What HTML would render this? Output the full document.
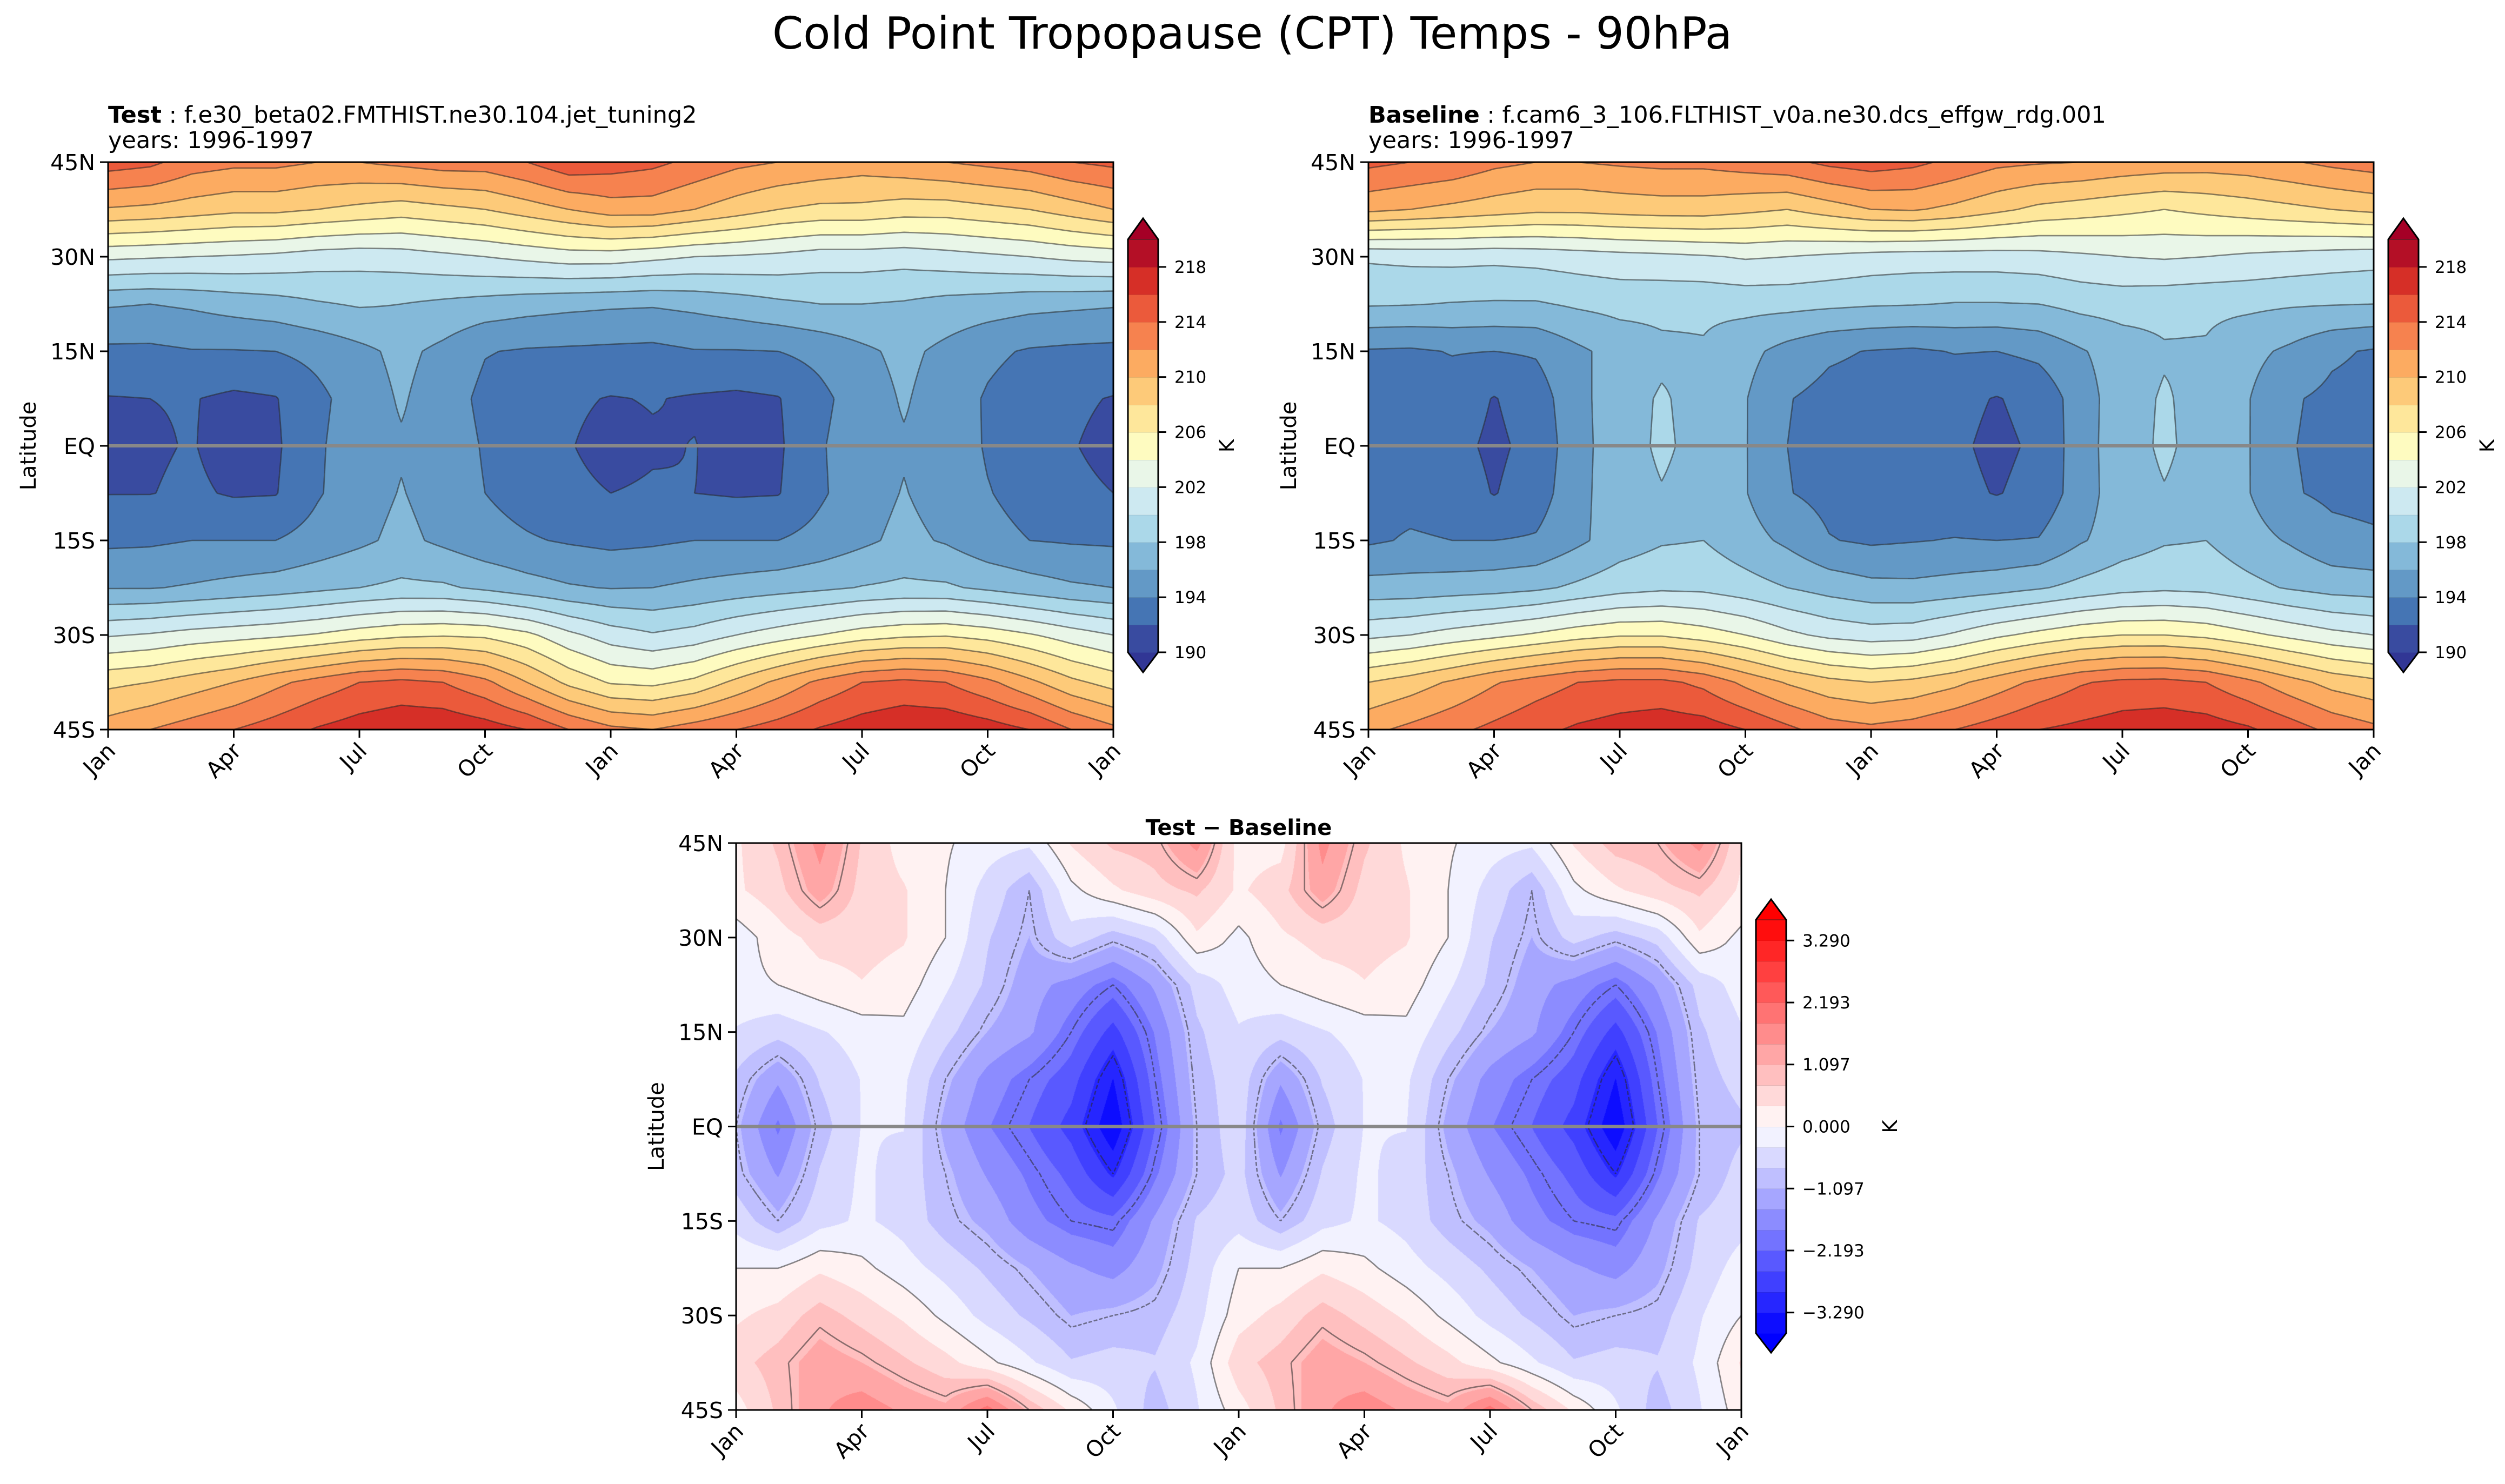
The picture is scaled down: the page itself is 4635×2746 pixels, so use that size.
<!DOCTYPE html>
<html><head><meta charset="utf-8">
<style>
html,body{margin:0;padding:0;background:#fff;}
#fig{position:relative;width:4635px;height:2746px;overflow:hidden;font-family:"DejaVu Sans","Liberation Sans",sans-serif;}
canvas{position:absolute;}
svg{position:absolute;left:0;top:0;}
</style></head>
<body>
<div id="fig">
<canvas id="cTest" width="1860" height="1050" style="left:200px;top:300px"></canvas>
<canvas id="cBase" width="1860" height="1050" style="left:2532px;top:300px"></canvas>
<canvas id="cDiff" width="1860" height="1049" style="left:1362px;top:1560px"></canvas>
<svg id="ov" width="4635" height="2746" xmlns="http://www.w3.org/2000/svg">
<text x="2317" y="90" font-size="82" text-anchor="middle">Cold Point Tropopause (CPT) Temps - 90hPa</text>
<text x="200" y="227" font-size="43"><tspan font-weight="bold">Test</tspan> : f.e30_beta02.FMTHIST.ne30.104.jet_tuning2</text>
<text x="200" y="274" font-size="43">years: 1996-1997</text>
<text x="2532" y="227" font-size="43"><tspan font-weight="bold">Baseline</tspan> : f.cam6_3_106.FLTHIST_v0a.ne30.dcs_effgw_rdg.001</text>
<text x="2532" y="274" font-size="43">years: 1996-1997</text>
<text x="2292" y="1545" font-size="40" font-weight="bold" text-anchor="middle">Test − Baseline</text>
<g id="layer"></g>
</svg>
</div>
<script>
const months = ["Jan","Apr","Jul","Oct","Jan","Apr","Jul","Oct","Jan"];
const latTicks = [45,30,15,0,-15,-30,-45];
const latTickLabels = ["45N","30N","15N","EQ","15S","30S","45S"];
const gridLats = [45,37.5,30,22.5,15,7.5,0,-7.5,-15,-22.5,-30,-37.5,-45];
const absLevels = [190,192,194,196,198,200,202,204,206,208,210,212,214,216,218,220];
const absTickVals = [190,194,198,202,206,210,214,218];
const diffLines = [-3,-2,-1,0,1,2,3];
const diffTickVals = [3.290,2.193,1.097,0.000,-1.097,-2.193,-3.290];

const testT = [
[215,214.5,213,212.5,212.5,212,212,212.5,213,213,214,215.5,215,214.5,213.5,212.5,212,211.5,211,211.5,212,212.5,213,214,214.5],
[209.8,209.5,209,208.5,208.5,208,207.5,207,207.5,208,209,210,211,211,210,209,208,207.5,207.5,207,207,207.5,208,209,210],
[202.4,202.2,202,201.8,201.5,201,200.8,201,201.5,202,202.5,203,203,202.5,202,201.8,201.5,201,201,200.8,201.2,201.6,202,202.5,202.8],
[196.2,196,196.3,196.8,197.2,197.8,198.2,198,197.6,197.2,196.8,196.5,196.3,196.2,196.5,197,197.6,198,198,197.8,197.3,197,196.6,196.4,196.2],
[193.6,193.6,193.9,193.9,194,194.6,195.5,196.5,195.5,194.1,193.8,193.7,193.6,193.5,193.9,193.9,194,194.6,195.6,196.5,195.5,194.4,193.8,193.6,193.5],
[191.9,192,192.1,191.6,191.9,193.5,195,196.2,195,193.5,193,192.3,191.9,192.1,191.8,191.6,191.9,193.5,195,196.2,195,193.8,193,192.3,191.9],
[191.3,191.8,192.1,191.3,191.7,193.7,195.2,195.8,195.2,193.8,193.2,192.1,191.4,191.8,192.05,191.4,191.7,193.8,195.2,195.8,195.2,193.8,193.2,192.1,191.5],
[191.95,191.95,192.3,191.8,191.9,193.8,195.2,196.1,195.2,194,193.2,192.4,192,192.2,192,191.8,191.9,193.7,195.2,196.1,195.2,194.1,193.3,192.4,192],
[193.6,193.7,194,194,194,194.8,195.6,196.5,195.6,194.7,194.2,193.8,193.5,193.7,194,194,194,194.7,195.6,196.5,195.8,194.6,194,193.8,193.7],
[195.9,195.9,196.2,196.6,197,197.5,198,198.4,198.3,197.6,196.8,196.2,195.9,196,196.4,196.8,197.2,197.6,198.1,198.4,198.3,197.6,196.9,196.3,196],
[201.8,202.2,202.8,203.2,203.6,204.2,205,205.6,205.8,205.6,204.5,202.5,201,200.2,200.8,202,203,204,205,205.6,205.8,205.2,204.2,203,202],
[207.5,208,209,210,211.5,212.8,214,214.5,214,212.5,210,207.5,205.8,205.5,206.5,208.5,210.5,212.5,214,214.5,214,212.5,210.5,208.5,207.2],
[211,212,213,214,215,216.2,217,217.6,217.6,217,216,214,212.5,212,213,214,215,216.2,217,217.6,217.6,217,216,214,212.5]
];
const baseT = [
[214.5,214,213.5,212.5,212,212,212.3,212.5,212.5,213,213.5,214.5,215,214.5,213.5,212.5,212.2,212,211.5,211.2,211,211.2,211.8,212.5,213],
[210.5,210,209.5,209,208.5,208.5,208.8,209,209,208.5,208,209,210,210.2,209.5,208.5,207.5,207,206.5,206,206.5,207,207.5,208,208.5],
[200.3,200.5,200.6,200.5,200.7,201,201.3,201.5,201.8,202.2,202,201.6,201.2,201,201,201,201.2,201.6,202,202.2,202,201.6,201.3,201,200.8],
[198.2,198.1,197.9,197.8,197.8,198.3,198.6,198.5,198.4,198.6,198.6,198.4,198.2,198.1,197.9,197.9,198,198.6,198.8,198.6,198.4,198.4,198.2,198.1,198],
[193.8,193.7,194.1,194,194.2,195.6,196.8,197.6,197.8,196.6,195.3,194.3,193.9,193.7,194.1,194,194.5,195.8,197,197.8,197.8,196.6,195.6,194.3,193.8],
[193.4,193.4,193.1,191.9,193,195.4,197.2,198.2,197.3,196.1,194.1,193.4,193.2,193,192.5,191.9,192.6,195,197.2,198.2,197.3,196.1,194.2,193.6,193.4],
[193.2,193.2,192.6,191.6,192.6,195.3,197.2,198.3,197.4,196.1,194,193.3,193,192.8,192.3,191.6,192.3,195.1,197.2,198.3,197.3,196.1,194.1,193.5,193.2],
[193.4,193.4,193.1,191.9,193,195.4,197.2,197.9,197.3,196.1,194.1,193.4,193.2,193,192.5,191.9,192.6,195,197.2,197.9,197.3,196.1,194.2,193.6,193.4],
[193.7,194.2,194,194,194.2,195.6,197,197.8,198,196.8,195.6,194.1,193.7,193.9,194.1,194,194.1,195.8,197,197.8,198,196.8,195.8,194.6,194.3],
[196.8,196.8,197,197.2,197.6,198.4,199.2,199.6,199.5,198.8,198,197.2,196.6,196.5,196.8,197.2,197.8,198.6,199.3,199.6,199.4,198.6,197.8,197.2,197],
[201.5,202,202.8,203.5,204.3,205.2,205.8,205.8,205,204,202.5,201.5,201,201.2,202.3,203.6,204.6,205.5,206,206,205.5,204.5,203.5,202.6,202],
[208,209,210.3,211.8,213,214,214.5,214.5,213.5,211.5,209.8,208.6,208,208.5,209.5,211,212.5,213.8,214.5,214.6,214,212.5,210.8,209.3,208.5],
[211.5,212.5,213.5,214.5,215.5,216.3,216.8,217.2,217,216,214.5,213,212.5,213,214,215,216,216.5,217,217.2,217,216.3,215,213.5,212.5]
];
const diffT = [
[0.3,0.8,1.6,0.7,0.2,0.05,-0.2,-0.3,0.4,0.8,0.9,1.6,0.2,0.2,1.6,0.8,0.3,0.05,-0.2,-0.3,0.4,0.9,1.0,1.6,0.4],
[0.3,0.6,1.3,0.6,0.4,0.0,-0.5,-1.0,-0.1,0.3,0.6,0.8,0.3,0.6,1.3,0.6,0.4,0.0,-0.5,-1.0,-0.1,0.3,0.6,0.8,0.3],
[-0.2,0.2,0.5,0.5,0.4,0.0,-0.7,-1.1,-0.5,-0.9,-0.6,0.3,-0.1,0.3,0.5,0.5,0.4,0.0,-0.7,-1.1,-0.6,-0.9,-0.6,0.3,-0.1],
[-0.1,0.0,0.2,0.35,0.2,-0.3,-0.8,-1.3,-1.6,-2.0,-1.4,-0.6,-0.2,0.0,0.2,0.35,0.2,-0.3,-0.8,-1.3,-1.6,-2.0,-1.4,-0.6,-0.2],
[-0.4,-0.6,-0.4,-0.2,-0.1,-0.6,-1.1,-1.4,-2.0,-2.7,-1.8,-0.8,-0.4,-0.6,-0.4,-0.2,-0.1,-0.6,-1.1,-1.4,-2.0,-2.7,-1.8,-0.8,-0.4],
[-0.8,-1.4,-0.7,-0.35,-0.3,-1.0,-1.6,-2.0,-2.4,-3.3,-2.0,-0.9,-0.5,-1.4,-0.7,-0.35,-0.3,-1.0,-1.6,-2.0,-2.4,-3.3,-2.0,-0.9,-0.6],
[-1.0,-1.9,-0.9,-0.35,-0.35,-1.2,-1.8,-2.2,-2.7,-3.6,-2.2,-1.0,-0.5,-1.9,-0.9,-0.35,-0.35,-1.2,-1.8,-2.2,-2.7,-3.6,-2.2,-1.0,-0.8],
[-0.9,-1.5,-0.7,-0.3,-0.5,-1.0,-1.5,-1.9,-2.3,-3.0,-1.9,-1.0,-0.6,-1.5,-0.7,-0.3,-0.5,-1.0,-1.5,-1.9,-2.3,-3.0,-1.9,-1.0,-0.6],
[-0.5,-1.0,-0.5,-0.3,-0.5,-0.9,-1.2,-1.7,-2.0,-2.1,-1.4,-0.7,-0.5,-1.0,-0.5,-0.3,-0.5,-0.9,-1.2,-1.7,-2.0,-2.1,-1.4,-0.7,-0.5],
[0.0,0.0,0.3,0.1,-0.2,-0.5,-0.8,-1.1,-1.4,-1.6,-1.2,-0.6,0.0,0.0,0.3,0.1,-0.2,-0.5,-0.8,-1.1,-1.4,-1.6,-1.2,-0.6,-0.2],
[0.3,0.5,0.9,0.6,0.3,-0.1,-0.5,-0.8,-1.1,-1.0,-0.9,-0.5,0.2,0.5,0.9,0.6,0.3,-0.1,-0.5,-0.8,-1.1,-1.0,-0.9,-0.4,0.0],
[0.6,0.9,1.3,1.1,0.8,0.5,0.1,-0.3,-0.7,-0.6,-0.7,-0.3,0.6,0.9,1.3,1.1,0.8,0.5,0.1,-0.3,-0.7,-0.6,-0.7,-0.3,0.4],
[0.2,0.8,1.4,1.7,1.4,1.2,2.0,1.0,0.3,-0.3,-0.9,-0.4,0.2,0.8,1.4,1.7,1.4,1.2,2.0,1.0,0.3,-0.3,-0.9,-0.4,0.2]
];

const absColors = ["#313695","#394ba0","#4575b4","#6399c6","#84b9d9","#abd8e9","#cde9f1","#e9f6e8","#fefbc0","#fee79b","#fdca79","#fcab61","#f6824f","#eb5a3b","#d62f27","#b40f26","#a50026"];
const DMAX = 3.656, NB = 20, BW = 2*DMAX/NB;
function diffColor(k){
  if(k<=0) return [0,0,255];
  if(k>=21) return [255,0,0];
  if(k<=10){const j=11-k; const g=Math.round(255*(1-(j-0.5)/10)); return [g,g,255];}
  const j=k-10; const g=Math.round(255*(1-(j-0.5)/10)); return [255,g,g];
}
function hexRgb(h){return [parseInt(h.substr(1,2),16),parseInt(h.substr(3,2),16),parseInt(h.substr(5,2),16)];}
const absRgb = absColors.map(hexRgb);
function absIdx(v){let k=Math.floor((v-190)/2)+1; return Math.max(0,Math.min(16,k));}
function diffIdx(v){let k=Math.floor((v+DMAX)/BW)+1; return Math.max(0,Math.min(21,k));}

function sample(F,u,v){
  let i=Math.min(23,Math.floor(u)), j=Math.min(11,Math.floor(v));
  const fu=u-i, fv=v-j;
  return F[j][i]*(1-fu)*(1-fv)+F[j][i+1]*fu*(1-fv)+F[j+1][i]*(1-fu)*fv+F[j+1][i+1]*fu*fv;
}
const NS="http://www.w3.org/2000/svg";
const layer=document.getElementById('layer');
function el(tag,attrs,parent){const e=document.createElementNS(NS,tag);for(const k in attrs)e.setAttribute(k,attrs[k]);(parent||layer).appendChild(e);return e;}

function fillPanel(id,F,isDiff){
  const cv=document.getElementById(id), W=cv.width, H=cv.height, ctx=cv.getContext('2d');
  const img=ctx.createImageData(W,H), d=img.data;
  for(let y=0;y<H;y++){const v=(y+0.5)/H*12;
    for(let x=0;x<W;x++){const u=(x+0.5)/W*24; const val=sample(F,u,v);
      const c=isDiff?diffColor(diffIdx(val)):absRgb[absIdx(val)];
      const p=(y*W+x)*4; d[p]=c[0];d[p+1]=c[1];d[p+2]=c[2];d[p+3]=255;}}
  ctx.putImageData(img,0,0);
}

function contourPath(F,level,x0,y0,W,H){
  const R=8, NX=24*R, NY=12*R, g=[];
  for(let j=0;j<=NY;j++){g.push([]);for(let i=0;i<=NX;i++)g[j].push(sample(F,i/R,j/R)-level);}
  const sx=W/NX, sy=H/NY; let dstr="";
  function ip(a,b){return a/(a-b);}
  for(let j=0;j<NY;j++)for(let i=0;i<NX;i++){
    const a=g[j][i],b=g[j][i+1],c=g[j+1][i+1],dd=g[j+1][i];
    const pts=[];
    if((a<0)!=(b<0)){const t=ip(a,b);pts.push([i+t,j]);}
    if((b<0)!=(c<0)){const t=ip(b,c);pts.push([i+1,j+t]);}
    if((dd<0)!=(c<0)){const t=ip(dd,c);pts.push([i+t,j+1]);}
    if((a<0)!=(dd<0)){const t=ip(a,dd);pts.push([i,j+t]);}
    for(let k=0;k+1<pts.length;k+=2){
      dstr+="M"+(x0+pts[k][0]*sx).toFixed(1)+" "+(y0+pts[k][1]*sy).toFixed(1)+"L"+(x0+pts[k+1][0]*sx).toFixed(1)+" "+(y0+pts[k+1][1]*sy).toFixed(1);
    }
  }
  return dstr;
}

function axes(x0,y0,W,H,prefix){
  const yOf=lat=>y0+(45-lat)/90*H;
  const eq=el('line',{x1:x0,x2:x0+W,y1:yOf(0),y2:yOf(0),stroke:'#888',"stroke-width":6});
  
  
  const fr=el('rect',{x:x0,y:y0,width:W,height:H,fill:'none',stroke:'#000',"stroke-width":3});
  
  
  latTicks.forEach((lat,k)=>{const y=yOf(lat);
    el('line',{x1:x0-15,x2:x0,y1:y,y2:y,stroke:'#000',"stroke-width":3});
    const t=el('text',{x:x0-24,y:y+15,"font-size":41,"text-anchor":"end"}); t.textContent=latTickLabels[k];
    
    
  });
  months.forEach((m,k)=>{const x=x0+k*3/24*W;
    el('line',{x1:x,x2:x,y1:y0+H,y2:y0+H+15,stroke:'#000',"stroke-width":3});
    const tx=x+16, ty=y0+H+42;
    const t=el('text',{x:tx,y:ty,"font-size":41,"text-anchor":"end",transform:`rotate(-45 ${tx} ${ty})`}); t.textContent=m;
    
    
  });
  const yl=el('text',{x:0,y:0,"font-size":40,"text-anchor":"middle",transform:`translate(${x0-134},${y0+H/2}) rotate(-90)`}); yl.textContent="Latitude";
  
  
}

function drawLines(F,levels,x0,y0,W,H,prefix,dashNeg){
  const cid=prefix+'-clip';
  const cp=el('clipPath',{id:cid}); el('rect',{x:x0,y:y0,width:W,height:H},cp);
  const g=el('g',{"clip-path":`url(#${cid})`});
  
  
  levels.forEach(lv=>{
    const p=el('path',{d:contourPath(F,lv,x0,y0,W,H),fill:'none',stroke:'rgba(40,40,40,0.55)',"stroke-width":2.6},g);
    if(dashNeg && lv<0) p.setAttribute('stroke-dasharray','7,4');
    
    
  });
}

function colorbar(x,top,bot,tipT,tipB,nb,colorOf,ticks,valToY,fmt,prefix,kOff){
  const w=56, cx=x+w/2, bh=(bot-top)/nb;
  const up=el('polygon',{points:`${x},${top} ${cx},${tipT} ${x+w},${top}`,fill:colorOf(nb+1)});
  
  
  const dn=el('polygon',{points:`${x},${bot} ${cx},${tipB} ${x+w},${bot}`,fill:colorOf(0)});
  
  
  for(let k=1;k<=nb;k++){
    const r=el('rect',{x:x,y:bot-k*bh,width:w,height:bh+0.6,fill:colorOf(k)});
    
    
    el('line',{x1:x,x2:x+w,y1:bot-k*bh,y2:bot-k*bh,stroke:'rgba(40,40,40,0.6)',"stroke-width":1.5});
  }
  el('polygon',{points:`${x},${top} ${cx},${tipT} ${x+w},${top} ${x+w},${bot} ${cx},${tipB} ${x},${bot}`,fill:'none',stroke:'#000',"stroke-width":3});
  ticks.forEach(tv=>{const y=valToY(tv);
    el('line',{x1:x+w,x2:x+w+15,y1:y,y2:y,stroke:'#000',"stroke-width":3});
    const t=el('text',{x:x+w+30,y:y+11,"font-size":31}); t.textContent=fmt(tv);
    
    
  });
  const k=el('text',{x:0,y:0,"font-size":37,"text-anchor":"middle",transform:`translate(${x+w+kOff},${(top+bot)/2}) rotate(-90)`}); k.textContent="K";
  
  
}

fillPanel('cTest',testT,false);
fillPanel('cBase',baseT,false);
fillPanel('cDiff',diffT,true);
drawLines(testT,absLevels,200,300,1860,1050,'test',false);
drawLines(baseT,absLevels,2532,300,1860,1050,'baseline',false);
drawLines(diffT,diffLines,1362,1560,1860,1049,'difference',true);
axes(200,300,1860,1050,'test');
axes(2532,300,1860,1050,'baseline');
axes(1362,1560,1860,1049,'difference');
const absCol=k=>absColors[Math.max(0,Math.min(16,k))];
colorbar(2087,443,1207,404,1244,15,absCol,absTickVals,v=>1207-(v-190)/30*764,v=>String(v),'test',140);
colorbar(4419,443,1207,404,1244,15,absCol,absTickVals,v=>1207-(v-190)/30*764,v=>String(v),'baseline',140);
const dCol=k=>{const c=diffColor(k);return `rgb(${c[0]},${c[1]},${c[2]})`;};
colorbar(3249,1702,2467,1664,2503,20,dCol,diffTickVals,v=>2467-(v+DMAX)/(2*DMAX)*765,v=>(v<0?"−":"")+Math.abs(v).toFixed(3),'difference',205);
</script>
</body></html>
